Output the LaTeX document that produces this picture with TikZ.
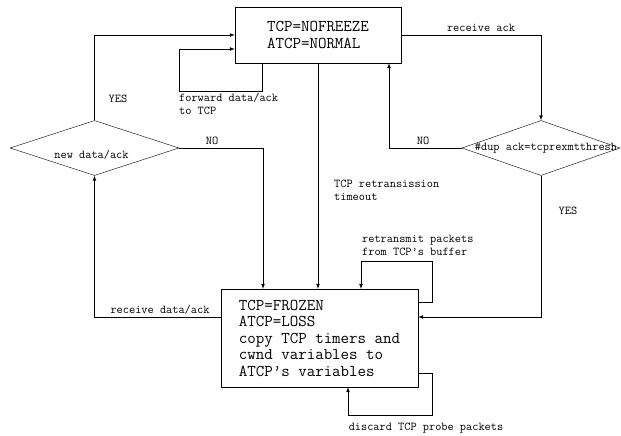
\documentclass[tikz,border=0pt]{standalone}
\usetikzlibrary{shapes.geometric, arrows, positioning}

\begin{document}
\begin{tikzpicture}[
    x=1pt, y=-1pt,
    state/.style={draw, rectangle, align=left, inner sep=0pt,
      font=\ttfamily\fontsize{16.5}{16.5}\selectfont},
    decision/.style={draw, diamond, inner sep=0pt},
    lbl/.style={font=\ttfamily\fontsize{12}{13}\selectfont, inner sep=1pt, align=left},
    arrow/.style={->, >=latex, line width=0.7pt}
]
\useasboundingbox (0,0) rectangle (621,436);

\node[state, minimum width=166pt, minimum height=56pt] (normal) at (318,35) {TCP=NOFREEZE\\ATCP=NORMAL};
\node[state, minimum width=197pt, minimum height=98pt] (frozen) at (319.5,338)
  {TCP=FROZEN\\ATCP=LOSS\\copy TCP timers and\\cwnd variables to\\ATCP’s variables};
\node[decision, minimum width=169pt, minimum height=55pt,
  label={[lbl, yshift=-7pt, xshift=-3pt]center:new data/ack}] (newdata) at (94.5,148) {};
\node[decision, minimum width=158pt, minimum height=55pt,
  label={[lbl, xshift=5pt]center:\#dup ack=tcprexmtthresh}] (dupack) at (541,148) {};

% left side
\draw[arrow] (newdata.north) |- (normal.west);
\node[lbl] (yesl) at (118,99) {YES};
\draw[arrow] ([xshift=28pt]normal.south west) |- (179,91) |- ([yshift=-14pt]normal.west);
\node[lbl, anchor=north west] (fwd) at (178,92) {forward data/ack\\to TCP};
\draw[arrow] (newdata.east) -| ([xshift=-56.5pt]frozen.north);
\node[lbl] (nol) at (212,141) {NO};
\draw[arrow] ([yshift=21pt]frozen.west) -| (newdata.south);
\node[lbl] (rcvd) at (160,310) {receive data/ack};

% middle
\draw[arrow] (normal.south) -- (normal.south |- frozen.north);
\node[lbl, anchor=west] (tmo) at (333,190) {TCP retransission\\timeout};

% right side
\draw[arrow] (normal.east) -| (dupack.north);
\node[lbl] (rcva) at (481,28) {receive ack};
\draw[arrow] (dupack.west) -| ([xshift=71pt]normal.south);
\node[lbl] (nor) at (423,141) {NO};
\draw[arrow] (dupack.south) |- ([yshift=21pt]frozen.east);
\node[lbl] (yesr) at (568,211) {YES};

% self loops on frozen
\draw[arrow] ([yshift=36pt]frozen.east) -| (432,261) -| ([xshift=41.5pt]frozen.north);
\node[lbl, anchor=west] (retx) at (361,245.5) {retransmit packets\\from TCP’s buffer};
\draw[arrow] ([yshift=-35pt]frozen.east) -| (432,415) -| ([xshift=28.5pt]frozen.south);
\node[lbl] (disc) at (426,428) {discard TCP probe packets};
\end{tikzpicture}
\end{document}
